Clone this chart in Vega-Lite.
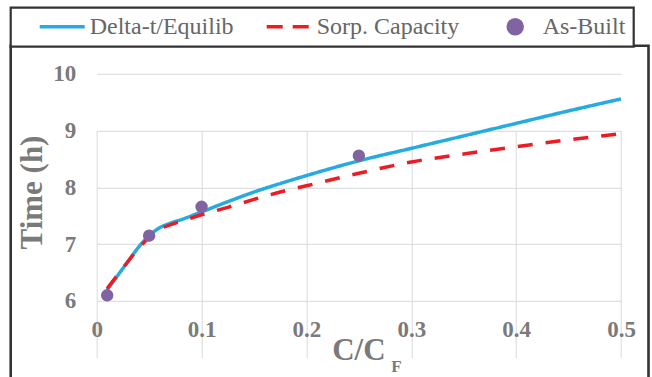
{
  "$schema": "https://vega.github.io/schema/vega-lite/v6.json",
  "width": 637.8,
  "height": 340,
  "autosize": {"type": "none"},
  "padding": {"left": 10.7, "top": 45.8, "right": 3.5, "bottom": 0},
  "background": "white",
  "data": {
    "values": [
      {"series": "Delta-t/Equilib", "x": 0.01, "y": 6.2},
      {"series": "Delta-t/Equilib", "x": 0.02, "y": 6.45},
      {"series": "Delta-t/Equilib", "x": 0.03, "y": 6.7},
      {"series": "Delta-t/Equilib", "x": 0.04, "y": 6.95},
      {"series": "Delta-t/Equilib", "x": 0.05, "y": 7.15},
      {"series": "Delta-t/Equilib", "x": 0.06, "y": 7.29},
      {"series": "Delta-t/Equilib", "x": 0.07, "y": 7.37},
      {"series": "Delta-t/Equilib", "x": 0.08, "y": 7.43},
      {"series": "Delta-t/Equilib", "x": 0.1, "y": 7.57},
      {"series": "Delta-t/Equilib", "x": 0.125, "y": 7.75},
      {"series": "Delta-t/Equilib", "x": 0.15, "y": 7.92},
      {"series": "Delta-t/Equilib", "x": 0.175, "y": 8.07},
      {"series": "Delta-t/Equilib", "x": 0.2, "y": 8.21},
      {"series": "Delta-t/Equilib", "x": 0.25, "y": 8.47},
      {"series": "Delta-t/Equilib", "x": 0.3, "y": 8.69},
      {"series": "Delta-t/Equilib", "x": 0.35, "y": 8.91},
      {"series": "Delta-t/Equilib", "x": 0.4, "y": 9.13},
      {"series": "Delta-t/Equilib", "x": 0.45, "y": 9.35},
      {"series": "Delta-t/Equilib", "x": 0.5, "y": 9.56},
      {"series": "Sorp. Capacity", "x": 0.01, "y": 6.22},
      {"series": "Sorp. Capacity", "x": 0.02, "y": 6.46},
      {"series": "Sorp. Capacity", "x": 0.03, "y": 6.7},
      {"series": "Sorp. Capacity", "x": 0.04, "y": 6.93},
      {"series": "Sorp. Capacity", "x": 0.05, "y": 7.12},
      {"series": "Sorp. Capacity", "x": 0.06, "y": 7.27},
      {"series": "Sorp. Capacity", "x": 0.07, "y": 7.34},
      {"series": "Sorp. Capacity", "x": 0.08, "y": 7.4},
      {"series": "Sorp. Capacity", "x": 0.1, "y": 7.52},
      {"series": "Sorp. Capacity", "x": 0.125, "y": 7.65},
      {"series": "Sorp. Capacity", "x": 0.15, "y": 7.79},
      {"series": "Sorp. Capacity", "x": 0.175, "y": 7.92},
      {"series": "Sorp. Capacity", "x": 0.2, "y": 8.03},
      {"series": "Sorp. Capacity", "x": 0.25, "y": 8.25},
      {"series": "Sorp. Capacity", "x": 0.3, "y": 8.45},
      {"series": "Sorp. Capacity", "x": 0.35, "y": 8.59},
      {"series": "Sorp. Capacity", "x": 0.4, "y": 8.72},
      {"series": "Sorp. Capacity", "x": 0.45, "y": 8.84},
      {"series": "Sorp. Capacity", "x": 0.5, "y": 8.95},
      {"series": "As-Built", "x": 0.01, "y": 6.1},
      {"series": "As-Built", "x": 0.05, "y": 7.15},
      {"series": "As-Built", "x": 0.1, "y": 7.66},
      {"series": "As-Built", "x": 0.25, "y": 8.56}
    ]
  },
  "layer": [
    {
      "transform": [{"filter": "datum.series !== 'As-Built'"}],
      "mark": {"type": "line", "strokeWidth": 3.5, "interpolate": "monotone"},
      "encoding": {
        "x": {
          "field": "x", "type": "quantitative",
          "scale": {"domain": [0, 0.5], "nice": false, "range": [86, 610.3]},
          "axis": {
            "orient": "bottom", "offset": -84.8,
            "values": [0, 0.1, 0.2, 0.3, 0.4, 0.5],
            "labelExpr": "datum.value === 0 ? '0' : format(datum.value, '.1f')",
            "title": "C/C", "titleFontSize": 31, "titleAlign": "left", "titleBaseline": "alphabetic",
            "titleX": 321, "titleY": 59
          }
        },
        "y": {
          "field": "y", "type": "quantitative",
          "scale": {"domain": [6, 10], "nice": false, "zero": false, "range": [255.2, 28.2]},
          "axis": {
            "offset": -86,
            "values": [6, 7, 8, 9, 10],
            "labelExpr": "format(datum.value, 'd')",
            "title": "Time (h)", "titleFontSize": 31, "titleAngle": -90, "titleAlign": "center",
            "titleBaseline": "alphabetic", "titleX": -55.5, "titleY": 146.2
          }
        },
        "color": {
          "field": "series", "type": "nominal",
          "scale": {"domain": ["Delta-t/Equilib", "Sorp. Capacity", "As-Built"], "range": ["#27A9E1", "#ED1C24", "#8064A2"]},
          "legend": {
            "orient": "none", "legendX": 0, "legendY": -38.1,
            "direction": "horizontal", "columns": 3, "title": null,
            "padding": 8, "clipHeight": 22, "columnPadding": 12,
            "symbolSize": 2025, "symbolStrokeWidth": 3.5, "symbolOffset": 19, "labelOffset": 3,
            "labelFont": "Liberation Serif", "labelFontSize": 24, "labelColor": "#666666", "labelLimit": 300,
            "encode": {
              "legend": {"update": {"stroke": {"value": "#333333"}, "strokeWidth": {"value": 2.2}, "fill": {"value": "white"}, "width": {"value": 637.8}}},
              "symbols": {"update": {
                "shape": {"signal": "datum.value === 'As-Built' ? 'M0.311,0A0.311,0.311,0,1,1,-0.311,0A0.311,0.311,0,1,1,0.311,0Z' : 'stroke'"},
                "strokeDash": {"signal": "datum.value === 'Sorp. Capacity' ? [16, 10] : null"},
                "fill": {"signal": "datum.value === 'As-Built' ? '#8064A2' : 'transparent'"},
                "stroke": {"signal": "datum.value === 'Delta-t/Equilib' ? '#27A9E1' : datum.value === 'Sorp. Capacity' ? '#ED1C24' : 'transparent'"},
                "strokeWidth": {"value": 3.5},
                "opacity": {"value": 1}
              }}
            }
          }
        },
        "strokeDash": {
          "field": "series", "type": "nominal",
          "scale": {"domain": ["Delta-t/Equilib", "Sorp. Capacity"], "range": [[1, 0], [15, 13]]},
          "legend": null
        }
      }
    },
    {
      "transform": [{"filter": "datum.series === 'As-Built'"}],
      "mark": {"type": "point", "filled": true, "size": 154, "opacity": 1},
      "encoding": {
        "x": {
          "field": "x", "type": "quantitative",
          "axis": {
            "orient": "bottom", "offset": -84.8,
            "title": "F", "labels": false, "grid": false, "titleFontSize": 17,
            "titleAlign": "left", "titleBaseline": "alphabetic", "titleX": 380, "titleY": 70.5
          }
        },
        "y": {"field": "y", "type": "quantitative"},
        "color": {"field": "series", "type": "nominal"}
      }
    }
  ],
  "resolve": {"axis": {"x": "independent"}},
  "config": {
    "font": "Liberation Serif",
    "view": {"stroke": "#333333", "strokeWidth": 2.6},
    "axis": {
      "grid": true, "gridColor": "#d9d9d9", "gridWidth": 1,
      "domain": false, "ticks": false, "tickSize": 0,
      "labelFont": "Liberation Serif", "labelFontSize": 23, "labelFontWeight": "bold", "labelColor": "#7a7a7a",
      "labelFlush": false, "labelOverlap": false, "labelBound": false,
      "titleFont": "Liberation Serif", "titleFontWeight": "bold", "titleColor": "#7a7a7a"
    },
    "axisX": {"labelPadding": 18},
    "axisY": {"labelPadding": 21}
  }
}
